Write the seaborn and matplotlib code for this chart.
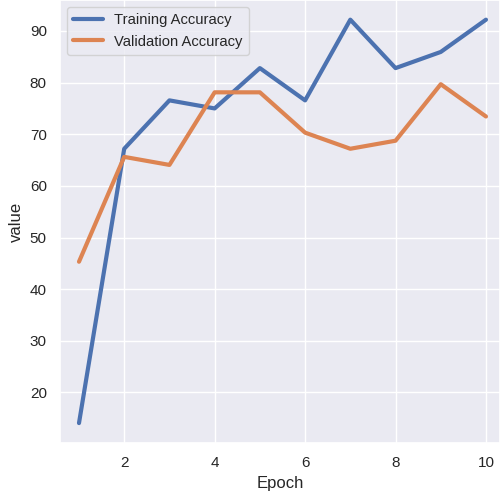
import numpy as np
import pandas as pd
import matplotlib
matplotlib.use("Agg")
import matplotlib.pyplot as plt
import seaborn as sns

epochs = [1, 2, 3, 4, 5, 6, 7, 8, 9, 10]
train_acc = [14.06, 67.19, 76.56, 75.00, 82.81, 76.56, 92.19, 82.81, 85.94, 92.19]
val_acc = [45.31, 65.62, 64.06, 78.12, 78.12, 70.31, 67.19, 68.75, 79.69, 73.44]
series_names = ["Training Accuracy", "Validation Accuracy"]

sns.set_theme(style="darkgrid")
plt.rcParams["font.family"] = ["Liberation Sans", "DejaVu Sans"]

df = pd.DataFrame({"Epoch": epochs, series_names[0]: train_acc, series_names[1]: val_acc})
long_df = df.melt(id_vars="Epoch", var_name="variable", value_name="value")

fig = plt.figure(figsize=(5.0, 4.95), dpi=100)
ax = fig.add_axes([0.12, 0.105, 0.88, 0.895])
sns.lineplot(data=long_df, x="Epoch", y="value", hue="variable", linewidth=3, ax=ax)
ax.set_xlim(0.58, 10.31)
ax.set_ylim(10.2, 96.0)
ax.legend(title=None, loc="upper left", fontsize=10.6)
fig.savefig("out.png", dpi=100)
